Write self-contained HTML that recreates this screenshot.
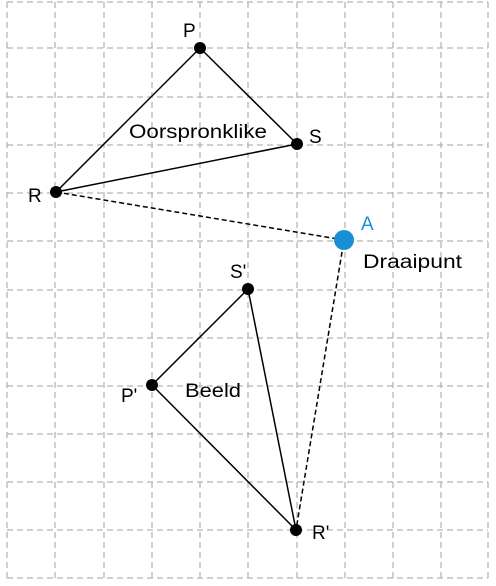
<!DOCTYPE html>
<html><head><style>html,body{margin:0;padding:0;background:#fff}svg{display:block}</style></head><body>
<svg width="496" height="586" xmlns="http://www.w3.org/2000/svg" font-family="Liberation Sans, sans-serif" font-size="19">
<g stroke="#b5b5b5" stroke-width="1.3" stroke-dasharray="6,4" fill="none">
<path d="M7 2V578M55 2V578M104 2V578M152 2V578M200 2V578M248 2V578M297 2V578M345 2V578M393 2V578M441 2V578M488 2V578"/>
<path d="M7 2H488M7 48H488M7 97H488M7 145H488M7 193H488M7 241H488M7 290H488M7 338H488M7 386H488M7 434H488M7 482H488M7 530H488M7 578H488"/>
</g>
<g stroke="#000" stroke-width="1.5" fill="none">
<path d="M200 48L297 144L56 192Z"/>
<path d="M248 289L152 385L296 530Z"/>
<path d="M56 192L344 240L296 530" stroke-dasharray="5,3"/>
</g>
<g fill="#000">
<circle cx="200" cy="48" r="6"/><circle cx="297" cy="144" r="6"/><circle cx="56" cy="192" r="6"/>
<circle cx="248" cy="289" r="6"/><circle cx="152" cy="385" r="6"/><circle cx="296" cy="530" r="6"/>
</g>
<circle cx="344" cy="240" r="10" fill="#1a8fd6"/>
<g fill="#000">
<text x="183" y="37">P</text><text x="309" y="143">S</text><text x="28" y="202">R</text>
<text x="129" y="138" textLength="138" lengthAdjust="spacingAndGlyphs">Oorspronklike</text>
<text x="363" y="268" textLength="99" lengthAdjust="spacingAndGlyphs">Draaipunt</text>
<text x="230" y="278">S'</text><text x="121" y="402">P'</text>
<text x="185" y="397" textLength="56" lengthAdjust="spacingAndGlyphs">Beeld</text>
<text x="312" y="539">R'</text>
</g>
<text x="361" y="230" fill="#1a8fd6">A</text>
</svg>
</body></html>
